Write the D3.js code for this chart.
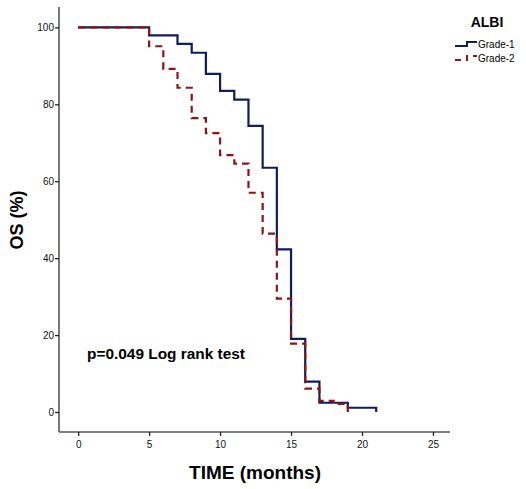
<!DOCTYPE html>
<html>
<head>
<meta charset="utf-8">
<script src="https://cdn.jsdelivr.net/npm/d3@7"></script>
<style>
  body { margin: 0; background: #fff; }
  svg { font-family: Arial, 'Liberation Sans', sans-serif; }
</style>
</head>
<body>
<svg id="chart" width="526" height="489"></svg>
<script>
// Kaplan-Meier steps
const grade1Times = [0, 5, 7, 8, 9, 10, 11, 12, 13, 14, 15, 16, 17, 19, 21];
const grade1Surv  = [100, 97.9, 95.7, 93.4, 87.9, 83.5, 81.2, 74.4, 63.5, 42.3, 19.0, 7.9, 2.4, 1.1, 0];
const grade2Times = [0, 5, 6, 7, 8, 9, 10, 11, 12, 13, 14, 15, 16, 17, 18, 19];
const grade2Surv  = [100, 95.1, 89.2, 84.3, 76.4, 72.5, 66.8, 64.6, 57.0, 46.4, 29.5, 17.8, 6.1, 2.9, 2.1, 0];
const seriesNames = ['Grade-1', 'Grade-2'];
const xTicks = [0, 5, 10, 15, 20, 25];
const yTicks = [0, 20, 40, 60, 80, 100];

const colors = { 'Grade-1': '#0f1d5e', 'Grade-2': '#8c1515' };
const dashes = { 'Grade-1': null, 'Grade-2': '7,5' };

const svg = d3.select('#chart');
const x = d3.scaleLinear().domain([-1.35, 26.2]).range([59, 450]);
const y = d3.scaleLinear().domain([-5.2, 105.3]).range([432, 7]);

const series = [
  { name: 'Grade-1', pts: grade1Times.map((t, i) => ({ t, s: grade1Surv[i] })) },
  { name: 'Grade-2', pts: grade2Times.map((t, i) => ({ t, s: grade2Surv[i] })) }
];

// axes
const xAxis = d3.axisBottom(x).tickValues(xTicks).tickSize(4).tickSizeOuter(0);
const yAxis = d3.axisLeft(y).tickValues(yTicks).tickSize(4).tickSizeOuter(0);

const gx = svg.append('g').attr('transform', 'translate(0,432)').call(xAxis);
gx.select('.domain').attr('d', 'M59,0H450').attr('stroke', '#555').attr('stroke-width', 1.6);
gx.selectAll('.tick line').attr('stroke', '#222').attr('stroke-width', 1.3);
gx.selectAll('.tick text').attr('font-size', 10).attr('fill', '#111').attr('dy', '0.9em')
  .attr('font-family', 'Arial, Liberation Sans, sans-serif');

const gy = svg.append('g').attr('transform', 'translate(59,0)').call(yAxis);
gy.select('.domain').attr('d', 'M0,7V432').attr('stroke', '#555').attr('stroke-width', 1.6);
gy.selectAll('.tick line').attr('stroke', '#222').attr('stroke-width', 1.3);
gy.selectAll('.tick text').attr('font-size', 10).attr('fill', '#111').attr('x', -5)
  .attr('font-family', 'Arial, Liberation Sans, sans-serif');

// survival step lines
const line = d3.line()
  .x(d => x(d.t))
  .y(d => y(d.s))
  .curve(d3.curveStepAfter);

svg.selectAll('.km')
  .data(series)
  .join('path')
  .attr('class', 'km')
  .attr('d', d => line(d.pts))
  .attr('fill', 'none')
  .attr('stroke', d => colors[d.name])
  .attr('stroke-width', 2.2)
  .attr('stroke-dasharray', d => dashes[d.name]);

// axis titles
svg.append('text')
  .attr('x', 255).attr('y', 479)
  .attr('text-anchor', 'middle')
  .attr('font-size', 19).attr('font-weight', 'bold')
  .text('TIME (months)');

svg.append('text')
  .attr('transform', 'translate(23,220) rotate(-90)')
  .attr('text-anchor', 'middle')
  .attr('font-size', 18).attr('font-weight', 'bold')
  .text('OS (%)');

svg.append('text')
  .attr('x', 87).attr('y', 359)
  .attr('font-size', 14).attr('font-weight', 'bold')
  .attr('textLength', 158).attr('lengthAdjust', 'spacingAndGlyphs')
  .text('p=0.049 Log rank test');

// legend
svg.append('text')
  .attr('x', 487).attr('y', 27)
  .attr('text-anchor', 'middle')
  .attr('font-size', 14).attr('font-weight', 'bold')
  .text('ALBI');

const leg = svg.selectAll('.leg')
  .data(seriesNames)
  .join('g')
  .attr('class', 'leg')
  .attr('transform', (d, i) => `translate(455,${46 + i * 14})`);

leg.append('path')
  .attr('d', 'M0,0H12V-4H22')
  .attr('fill', 'none')
  .attr('stroke', d => colors[d])
  .attr('stroke-width', 2)
  .attr('stroke-dasharray', d => dashes[d] ? '6,5' : null);

leg.append('text')
  .attr('x', 23).attr('y', 2)
  .attr('font-size', 10)
  .text(d => d);
</script>
</body>
</html>
